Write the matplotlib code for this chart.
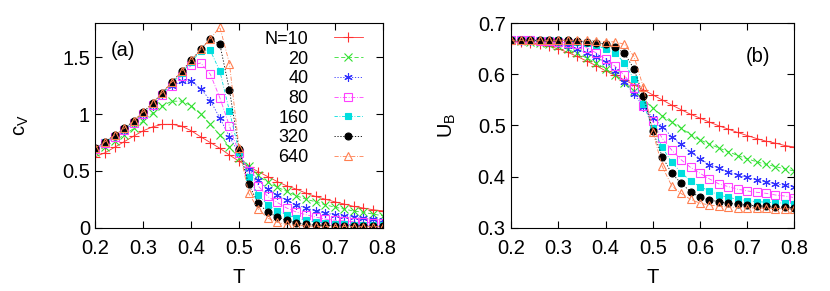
import matplotlib
matplotlib.use("Agg")
import matplotlib.pyplot as plt

plt.rcParams['font.family'] = ['Liberation Sans', 'DejaVu Sans']
plt.rcParams['mathtext.default'] = 'regular'

T = [0.20, 0.22, 0.24, 0.26, 0.28, 0.30, 0.32, 0.34, 0.36, 0.38, 0.40,
     0.42, 0.44, 0.46, 0.48, 0.50, 0.52, 0.54, 0.56, 0.58, 0.60,
     0.62, 0.64, 0.66, 0.68, 0.70, 0.72, 0.74, 0.76, 0.78, 0.80]

labels = ["N=10", "20", "40", "80", "160", "320", "640"]

cv10 = [0.626, 0.66, 0.708, 0.757, 0.807, 0.854, 0.889, 0.91, 0.91, 0.895, 0.854,
        0.80, 0.75, 0.699, 0.64, 0.585, 0.538, 0.494, 0.45, 0.406, 0.368,
        0.339, 0.304, 0.275, 0.251, 0.228, 0.208, 0.187, 0.173, 0.158, 0.149]
cv20 = [0.665, 0.712, 0.766, 0.816, 0.874, 0.94, 1.01, 1.075, 1.114, 1.114, 1.075,
        1.0, 0.91, 0.816, 0.713, 0.61, 0.545, 0.46, 0.40, 0.357, 0.319,
        0.281, 0.251, 0.228, 0.202, 0.181, 0.164, 0.146, 0.135, 0.12, 0.105]
cv40 = [0.69, 0.74, 0.795, 0.853, 0.918, 0.99, 1.075, 1.165, 1.25, 1.289, 1.289,
        1.225, 1.12, 0.965, 0.80, 0.655, 0.515, 0.421, 0.339, 0.289, 0.24,
        0.202, 0.173, 0.149, 0.129, 0.114, 0.099, 0.091, 0.082, 0.076, 0.07]
cv80 = [0.695, 0.748, 0.803, 0.86, 0.925, 1.0, 1.08, 1.165, 1.25, 1.34, 1.43,
        1.45, 1.351, 1.143, 0.895, 0.655, 0.50, 0.368, 0.275, 0.222, 0.173,
        0.137, 0.114, 0.094, 0.076, 0.066, 0.059, 0.053, 0.048, 0.044, 0.04]
cv160 = [0.70, 0.752, 0.81, 0.867, 0.933, 1.01, 1.09, 1.178, 1.27, 1.362, 1.46,
         1.555, 1.561, 1.377, 1.026, 0.67, 0.444, 0.289, 0.202, 0.149, 0.114,
         0.085, 0.064, 0.05, 0.041, 0.035, 0.03, 0.027, 0.024, 0.022, 0.02]
cv320 = [0.704, 0.757, 0.815, 0.874, 0.941, 1.02, 1.10, 1.19, 1.284, 1.377, 1.474,
         1.57, 1.664, 1.614, 1.21, 0.69, 0.383, 0.216, 0.137, 0.094, 0.064,
         0.041, 0.029, 0.023, 0.02, 0.018, 0.016, 0.015, 0.014, 0.013, 0.012]
cv640 = [0.704, 0.757, 0.815, 0.874, 0.941, 1.02, 1.10, 1.19, 1.284, 1.377, 1.474,
         1.57, 1.664, 1.766, 1.444, 0.70, 0.304, 0.165, 0.085, 0.047, 0.029,
         0.02, 0.015, 0.012, 0.011, 0.01, 0.01, 0.009, 0.009, 0.009, 0.009]

ub10 = [0.6655, 0.664, 0.662, 0.659, 0.655, 0.650, 0.643, 0.635, 0.626, 0.617, 0.607,
        0.598, 0.589, 0.58, 0.570, 0.560, 0.550, 0.540, 0.531, 0.522, 0.5145,
        0.5066, 0.4994, 0.4929, 0.4863, 0.4804, 0.4745, 0.4694, 0.4655, 0.4608, 0.458]
ub20 = [0.6664, 0.6657, 0.664, 0.662, 0.659, 0.655, 0.649, 0.641, 0.632, 0.622, 0.611,
        0.598, 0.584, 0.568, 0.551, 0.534, 0.519, 0.506, 0.495, 0.482, 0.472,
        0.4635, 0.456, 0.449, 0.441, 0.435, 0.429, 0.424, 0.4196, 0.415, 0.411]
ub40 = [0.6665, 0.6663, 0.666, 0.665, 0.663, 0.661, 0.655, 0.649, 0.642, 0.634, 0.624,
        0.606, 0.585, 0.562, 0.537, 0.515, 0.498, 0.478, 0.463, 0.448, 0.4353,
        0.4233, 0.417, 0.409, 0.4035, 0.3983, 0.3937, 0.3904, 0.3857, 0.383, 0.380]
ub80 = [0.6667, 0.6666, 0.6665, 0.6663, 0.665, 0.663, 0.661, 0.659, 0.652, 0.642, 0.630,
        0.616, 0.598, 0.573, 0.538, 0.508, 0.475, 0.452, 0.433, 0.418, 0.4066,
        0.3955, 0.3857, 0.3804, 0.3752, 0.372, 0.3693, 0.3673, 0.364, 0.362, 0.359]
ub160 = [0.6667, 0.6667, 0.6667, 0.6667, 0.6667, 0.6665, 0.666, 0.664, 0.662, 0.657, 0.650,
         0.641, 0.623, 0.59, 0.542, 0.495, 0.4576, 0.428, 0.408, 0.3915, 0.3804,
         0.3718, 0.364, 0.3595, 0.3555, 0.353, 0.351, 0.350, 0.349, 0.348, 0.347]
ub320 = [0.6667, 0.6667, 0.6667, 0.6667, 0.6667, 0.6667, 0.6667, 0.665, 0.6635, 0.662, 0.659,
         0.654, 0.641, 0.611, 0.557, 0.4896, 0.439, 0.4066, 0.387, 0.3705, 0.3595,
         0.3542, 0.351, 0.3477, 0.346, 0.3444, 0.343, 0.342, 0.341, 0.340, 0.339]
ub640 = [0.6667, 0.6667, 0.6667, 0.6667, 0.6667, 0.6667, 0.6667, 0.6667, 0.6665, 0.6655, 0.664,
         0.6635, 0.659, 0.6355, 0.575, 0.488, 0.42, 0.382, 0.367, 0.3555, 0.348,
         0.3444, 0.342, 0.3405, 0.3395, 0.339, 0.3385, 0.338, 0.3375, 0.337, 0.3366]

cv_series = [cv10, cv20, cv40, cv80, cv160, cv320, cv640]
ub_series = [ub10, ub20, ub40, ub80, ub160, ub320, ub640]

colors = ['#ff3030', '#30e030', '#3030ff', '#ff40ff', '#00dede', '#000000', '#ff7f50']
markers = ['+', 'x', (6, 2, 0), 's', 's', 'o', '^']
fills = ['full', 'full', 'full', 'none', 'full', 'full', 'none']
msizes = [6.5, 5.5, 6, 5.5, 5, 5, 5.8]
lstyles = ['-', (0, (5, 3)), (0, (1.5, 2)), (0, (5, 2, 1, 2)), (0, (4, 2, 1, 2)),
           (0, (1.5, 2)), (0, (5, 2, 1, 2))]

fig = plt.figure(figsize=(8.30, 2.91), dpi=100)
axa = fig.add_axes([0.115, 0.2175, 0.346, 0.7025])
axb = fig.add_axes([0.616, 0.2175, 0.341, 0.7025])

fs = 14.5

for ax, series in ((axa, cv_series), (axb, ub_series)):
    for i, ys in enumerate(series):
        ax.plot(T, ys, color=colors[i], linestyle=lstyles[i], linewidth=0.6,
                marker=markers[i], markersize=msizes[i], fillstyle=fills[i],
                markeredgewidth=0.8, label=labels[i])
    ax.set_xlim(0.2, 0.8)
    ax.set_xticks([0.2, 0.3, 0.4, 0.5, 0.6, 0.7, 0.8])
    ax.tick_params(direction='in', top=True, right=True, labelsize=fs,
                   length=5, width=0.8)
    ax.tick_params(axis='x', pad=8)
    ax.tick_params(axis='y', pad=4)
    ax.set_xlabel('T', fontsize=fs, labelpad=7)
    for s in ax.spines.values():
        s.set_linewidth(0.8)

axa.set_ylim(0, 1.8)
axa.set_yticks([0, 0.5, 1, 1.5])
axa.set_yticklabels(['0', '0.5', '1', '1.5'])
axa.set_ylabel(r'$c_V$', fontsize=fs, labelpad=22)
axa.text(0.055, 0.84, '(a)', transform=axa.transAxes, fontsize=fs)

axb.set_ylim(0.3, 0.7)
axb.set_yticks([0.3, 0.4, 0.5, 0.6, 0.7])
axb.set_ylabel(r'$U_B$', fontsize=fs, labelpad=14)
axb.text(0.83, 0.81, '(b)', transform=axb.transAxes, fontsize=fs)

leg = axa.legend(loc='upper right', bbox_to_anchor=(0.975, 1.025), frameon=False,
                 markerfirst=False, fontsize=13, handlelength=1.6,
                 labelspacing=0.15, handletextpad=1.4, borderpad=0.2)

fig.savefig('out.png', dpi=100)
